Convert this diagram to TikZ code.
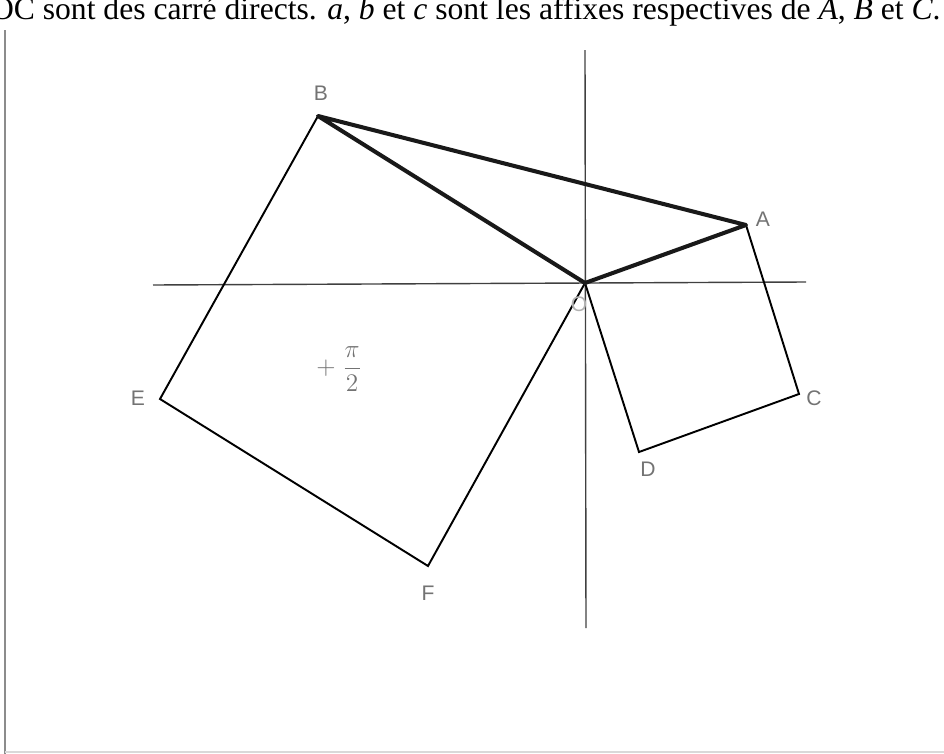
\documentclass[tikz,border=0pt]{standalone}
\usepackage{amsmath}
\usepackage{fontspec}
\setmainfont{Liberation Serif}
\newfontfamily\handfont{Liberation Sans}
\usepackage{xcolor}
\usetikzlibrary{positioning}

\begin{document}
\begin{tikzpicture}[x=0.02cm, y=-0.02cm,
  axis/.style={draw=black!75, line width=0.8pt},
  side/.style={draw=black, line width=1.1pt},
  heavy/.style={draw=black!90, line width=2.3pt, line join=round},
  lbl/.style={text=black!55, font=\handfont\fontsize{12}{14}\selectfont, inner sep=1pt}]

\useasboundingbox (0,0) rectangle (944,754);

% cadre du scan
\draw[black!45, line width=0.9pt] (5,30) -- (5,754);
\draw[black!15, line width=0.8pt] (5,752) -- (944,752);

% texte du haut
\node[anchor=base east, font=\fontsize{18}{20}\selectfont, inner sep=0pt] (enonce) at (941,19)
  {OC sont des carré directs. \textit{a}, \textit{b} et \textit{c} sont les affixes respectives de \textit{A}, \textit{B} et \textit{C}.};

% points
\coordinate (O) at (585,283);
\coordinate (A) at (746,225);
\coordinate (B) at (318,116);
\coordinate (C) at (799,394);
\coordinate (D) at (639,452);
\coordinate (E) at (160,399);
\coordinate (F) at (428,566);

% axes
\coordinate (xg) at (153,285);
\coordinate (xd) at (806,282);
\coordinate (yh) at (585,50);
\coordinate (yb) at (586,628);
\draw[axis] (xg) -- (xd);
\draw[axis] (yh) -- (yb);

% carres
\draw[side] (O) -- (A) -- (C) -- (D) -- cycle;
\draw[side] (O) -- (B) -- (E) -- (F) -- cycle;

% triangle OAB
\draw[heavy] (O) -- (A) -- (B) -- cycle;

% etiquettes
\node[lbl] (lA) at (763,219) {A};
\node[lbl] (lB) at (321,93) {B};
\node[lbl] (lC) at (814,398) {C};
\node[lbl] (lD) at (648,469) {D};
\node[lbl] (lE) at (138,398) {E};
\node[lbl] (lF) at (428,593) {F};
\node[lbl, text=black!30] (lO) at (579,304) {O};
\node[lbl, font=\fontsize{14}{16}\selectfont] (angle) at (339,369) {$+\;\dfrac{\pi}{2}$};

\end{tikzpicture}
\end{document}
